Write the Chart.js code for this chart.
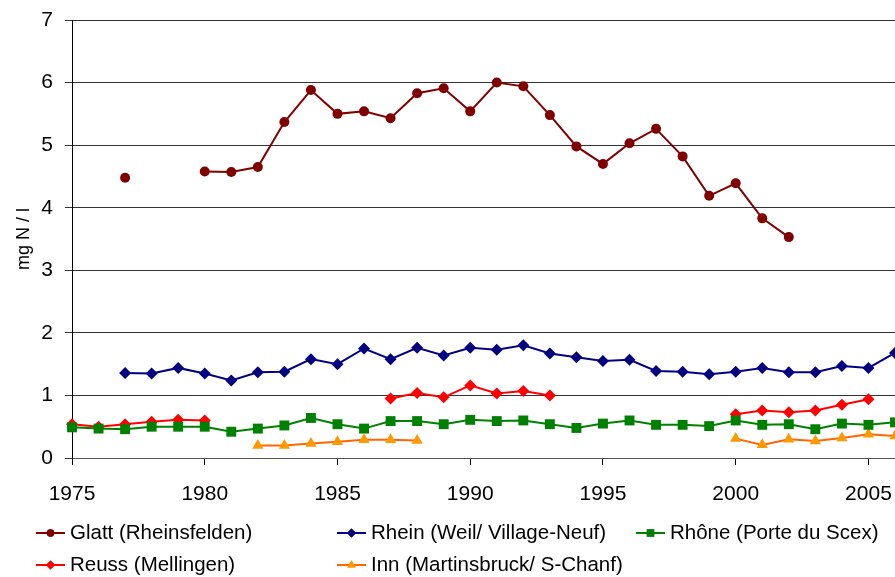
<!DOCTYPE html>
<html>
<head>
<meta charset="utf-8">
<script src="https://cdn.jsdelivr.net/npm/chart.js@4"></script>
<style>
  html, body { margin: 0; padding: 0; background: #fff; }
  #wrap { width: 895px; height: 577px; position: relative; }
</style>
</head>
<body>
<div id="wrap"><canvas id="nitrateChart"></canvas></div>
<script>
// years 1975 .. 2006
const years = [1975, 1976, 1977, 1978, 1979, 1980, 1981, 1982, 1983, 1984, 1985, 1986, 1987, 1988, 1989, 1990,
  1991, 1992, 1993, 1994, 1995, 1996, 1997, 1998, 1999, 2000, 2001, 2002, 2003, 2004, 2005, 2006];

const glatt = [null, null, 4.48, null, null, 4.58, 4.57, 4.65, 5.37, 5.88, 5.50, 5.54, 5.43, 5.83, 5.91, 5.54,
  6.00, 5.94, 5.48, 4.98, 4.70, 5.03, 5.26, 4.82, 4.19, 4.39, 3.83, 3.53, null, null, null, null];
const rhein = [null, null, 1.36, 1.35, 1.44, 1.35, 1.24, 1.37, 1.38, 1.58, 1.50, 1.75, 1.58, 1.76, 1.64, 1.76,
  1.73, 1.80, 1.67, 1.61, 1.55, 1.57, 1.39, 1.38, 1.34, 1.38, 1.44, 1.37, 1.37, 1.47, 1.44, 1.68];
const rhone = [0.49, 0.47, 0.46, 0.50, 0.50, 0.50, 0.42, 0.47, 0.52, 0.64, 0.54, 0.47, 0.59, 0.59, 0.54, 0.61,
  0.59, 0.60, 0.54, 0.48, 0.55, 0.60, 0.53, 0.53, 0.51, 0.60, 0.53, 0.54, 0.46, 0.55, 0.53, 0.57];
const reuss = [0.54, 0.50, 0.54, 0.58, 0.61, 0.60, null, null, null, null, null, null, 0.95, 1.04, 0.97, 1.16,
  1.03, 1.07, 1.00, null, null, null, null, null, null, 0.70, 0.76, 0.73, 0.76, 0.85, 0.94, null];
const inn = [null, null, null, null, null, null, null, 0.20, 0.20, 0.23, 0.26, 0.29, 0.29, 0.28, null, null,
  null, null, null, null, null, null, null, null, null, 0.31, 0.21, 0.30, 0.27, 0.32, 0.38, 0.35];

const seriesNames = ["Glatt (Rheinsfelden)", "Rhein (Weil/ Village-Neuf)", "Rhône (Porte du Scex)",
  "Reuss (Mellingen)", "Inn (Martinsbruck/ S-Chanf)"];
const yTicks = [0, 1, 2, 3, 4, 5, 6, 7];
const xTicks = [1975, 1980, 1985, 1990, 1995, 2000, 2005];

const FONT = "'Liberation Sans', Arial, sans-serif";

function toPoints(values) {
  return years.map((yr, i) => ({ x: yr, y: values[i] }));
}

function series(label, values, line, marker, style, radius) {
  return {
    label: label,
    data: toPoints(values),
    borderColor: line,
    backgroundColor: marker,
    borderWidth: 2,
    pointStyle: style,
    pointRadius: radius,
    pointBorderWidth: 0,
    pointBackgroundColor: marker,
    pointBorderColor: marker,
    spanGaps: false,
    tension: 0,
    clip: 8
  };
}

const datasets = [
  series(seriesNames[0], glatt, "#800000", "#800000", "circle", 5),
  series(seriesNames[1], rhein, "#000080", "#000080", "rectRot", 6),
  series(seriesNames[2], rhone, "#008000", "#008000", "rect", 7),
  series(seriesNames[3], reuss, "#FF0000", "#FF0000", "rectRot", 6),
  series(seriesNames[4], inn, "#FF6600", "#FF9900", "triangle", 6.5)
];

// legend laid out in a 3-column grid below the axis
const legendPlugin = {
  id: "gridLegend",
  afterDraw(chart) {
    const ctx = chart.ctx;
    const cols = [36, 337, 636];
    const rows = [533, 565];
    ctx.save();
    chart.data.datasets.forEach((ds, i) => {
      const x = cols[i % 3];
      const y = rows[Math.floor(i / 3)];
      ctx.strokeStyle = ds.borderColor;
      ctx.lineWidth = 2;
      ctx.beginPath();
      ctx.moveTo(x, y);
      ctx.lineTo(x + 29, y);
      ctx.stroke();
      ctx.fillStyle = ds.pointBackgroundColor;
      Chart.helpers.drawPoint(ctx, {
        pointStyle: ds.pointStyle,
        radius: ds.pointRadius * 0.75,
        borderWidth: 0,
        rotation: 0
      }, x + 14.5, y);
      ctx.fill();
      ctx.fillStyle = "#000";
      ctx.font = "20.5px " + FONT;
      ctx.textBaseline = "middle";
      ctx.textAlign = "left";
      ctx.fillText(ds.label, x + 34, y);
    });
    ctx.restore();
  }
};

new Chart(document.getElementById("nitrateChart").getContext("2d"), {
  type: "line",
  data: { datasets: datasets },
  plugins: [legendPlugin],
  options: {
    responsive: true,
    maintainAspectRatio: false,
    animation: false,
    layout: { autoPadding: false, padding: { top: 20, right: 0, left: 0, bottom: 0 } },
    plugins: {
      legend: { display: false },
      tooltip: { enabled: false }
    },
    scales: {
      x: {
        type: "linear",
        min: 1975,
        max: 2006,
        afterFit(scale) {
          scale.height = 119;
          scale.paddingLeft = 0;
          scale.paddingRight = 0;
        },
        afterBuildTicks(scale) { scale.ticks = xTicks.map(v => ({ value: v })); },
        grid: { drawOnChartArea: false, drawTicks: true, tickLength: 7, color: "#000" },
        border: { color: "#555", width: 1 },
        ticks: {
          color: "#000",
          padding: 17,
          maxRotation: 0,
          autoSkip: false,
          font: { family: FONT, size: 21 },
          callback: v => String(v)
        }
      },
      y: {
        min: 0,
        max: 7,
        afterFit(scale) {
          scale.width = 72;
          scale.paddingTop = 0;
          scale.paddingBottom = 0;
        },
        afterBuildTicks(scale) { scale.ticks = yTicks.map(v => ({ value: v })); },
        grid: { color: "#333", tickLength: 7, drawTicks: true },
        border: { color: "#000", width: 1 },
        title: {
          display: true,
          text: "mg N / l",
          color: "#000",
          font: { family: FONT, size: 18 },
          padding: { top: 13, bottom: 0 }
        },
        ticks: {
          color: "#000",
          padding: 12,
          font: { family: FONT, size: 21 }
        }
      }
    }
  }
});
</script>
</body>
</html>
